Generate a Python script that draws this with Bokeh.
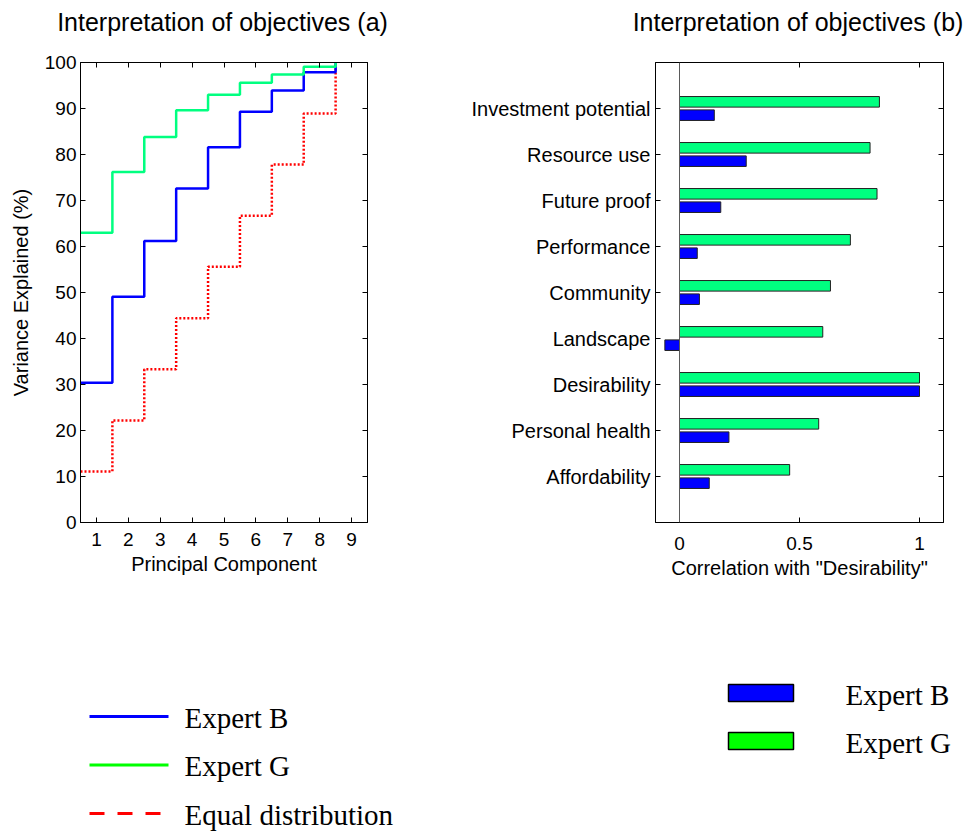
from bokeh.plotting import figure
from bokeh.models import (Range1d, FactorRange, LinearAxis, CategoricalAxis, FixedTicker, Span,
                          ColumnDataSource, CustomJSTickFormatter)
from bokeh.transform import dodge
from bokeh.layouts import column, row
from bokeh.embed import file_html
from bokeh.resources import INLINE
from bokeh.core.properties import value

# ---------------- data ----------------
components = [1, 2, 3, 4, 5, 6, 7, 8, 9]
expert_b_var = [30.4, 49.1, 61.2, 72.6, 81.6, 89.3, 93.9, 97.9, 100.0]
expert_g_var = [63.0, 76.2, 83.8, 89.6, 93.0, 95.6, 97.4, 99.1, 100.0]
equal_var = [11.1, 22.2, 33.3, 44.4, 55.6, 66.7, 77.8, 88.9, 100.0]
y_ticks_a = [0, 10, 20, 30, 40, 50, 60, 70, 80, 90, 100]

objectives = ["Affordability", "Personal health", "Desirability", "Landscape",
              "Community", "Performance", "Future proof", "Resource use",
              "Investment potential"]
corr_b = [0.124, 0.206, 1.0, -0.061, 0.083, 0.074, 0.172, 0.278, 0.145]
corr_g = [0.459, 0.580, 1.0, 0.597, 0.629, 0.712, 0.823, 0.794, 0.833]
x_ticks_b = [0, 0.5, 1]
x_tick_labels_b = ["0", "0.5", "1"]

titles = ["Interpretation of objectives (a)", "Interpretation of objectives (b)"]
line_legend = ["Expert B", "Expert G", "Equal distribution"]
bar_legend = ["Expert B", "Expert G"]

# ---------------- styles ----------------
SANS = "Liberation Sans"
SERIF = "Liberation Serif"
BLUE = "#0000FF"
GREEN = "#00FF80"
RED = "#FF0000"
line_legend_colors = [BLUE, "#00FF00", RED]
line_legend_dash = ["solid", "solid", "15 13"]
bar_legend_colors = [BLUE, "#00FF00"]

W_A, W_B = 448, 516
H_TITLE, H_PLOT, H_LEG = 40, 608, 185
FRAME_TOP = 62 - H_TITLE
FRAME_H = 460
A_LEFT, A_FW = 80, 287
B_LEFT, B_FW = 207, 288
BLANK = CustomJSTickFormatter(code="return ''")


def style_axis(ax, show_labels=True):
    ax.axis_line_color = "black"
    ax.axis_line_width = 1
    ax.major_tick_in = 5
    ax.major_tick_out = 0
    ax.major_tick_line_color = "black"
    ax.minor_tick_line_color = None
    ax.major_label_text_font = SANS
    ax.major_label_text_color = "black"
    ax.major_label_text_font_size = "19px"
    ax.major_label_standoff = 4 if show_labels else 0
    ax.axis_label_text_font = SANS
    ax.axis_label_text_font_size = "20px"
    ax.axis_label_text_font_style = "normal"
    ax.axis_label_text_color = "black"


def blank(width, height):
    p = figure(width=width, height=height, x_range=Range1d(0, width), y_range=Range1d(height, 0),
               output_backend="svg", toolbar_location=None, min_border=0,
               x_axis_location=None, y_axis_location=None)
    p.grid.visible = False
    p.outline_line_color = None
    return p


# ---------------- titles ----------------
title_figs = []
for t, w, left, fw in zip(titles, [W_A, W_B], [A_LEFT, B_LEFT], [A_FW, B_FW]):
    tp = blank(w, H_TITLE)
    tp.text(x=[left + fw / 2 - 1.5], y=[21], text=[t], text_font=value(SANS),
            text_font_size="25px", text_align="center", text_baseline="middle",
            text_color="black")
    title_figs.append(tp)

# ---------------- plot (a) ----------------
fa = figure(width=W_A, height=H_PLOT, x_range=Range1d(0.5, 9.5), y_range=Range1d(0, 100),
            output_backend="svg", toolbar_location=None,
            min_border_left=A_LEFT, min_border_right=W_A - A_LEFT - A_FW,
            min_border_top=FRAME_TOP, min_border_bottom=H_PLOT - FRAME_TOP - FRAME_H)
fa.grid.visible = False
fa.outline_line_color = "black"
fa.xaxis.ticker = FixedTicker(ticks=components)
fa.yaxis.ticker = FixedTicker(ticks=y_ticks_a)
fa.xaxis.axis_label = "Principal Component"
fa.yaxis.axis_label = "Variance Explained (%)"
for ax in fa.xaxis + fa.yaxis:
    style_axis(ax)
fa.xaxis.major_label_standoff = 10
fa.xaxis.axis_label_standoff = 4
fa.yaxis.axis_label_standoff = 10
top_a = LinearAxis(ticker=FixedTicker(ticks=components), formatter=BLANK)
right_a = LinearAxis(ticker=FixedTicker(ticks=y_ticks_a), formatter=BLANK)
style_axis(top_a, False)
style_axis(right_a, False)
fa.add_layout(top_a, "above")
fa.add_layout(right_a, "right")

stair_x = [c - 0.5 for c in components]
fa.step(stair_x, equal_var, mode="after", line_color=RED, line_width=2.5, line_dash="2 2")
fa.step(stair_x, expert_b_var, mode="after", line_color=BLUE, line_width=2.5)
fa.step(stair_x, expert_g_var, mode="after", line_color=GREEN, line_width=2.5)

# ---------------- plot (b) ----------------
src = ColumnDataSource(dict(cat=objectives, b=corr_b, g=corr_g))
fb = figure(width=W_B, height=H_PLOT, x_range=Range1d(-0.1, 1.1),
            y_range=FactorRange(factors=objectives, range_padding=0.5, range_padding_units="absolute"),
            output_backend="svg", toolbar_location=None,
            min_border_left=B_LEFT, min_border_right=W_B - B_LEFT - B_FW,
            min_border_top=FRAME_TOP, min_border_bottom=H_PLOT - FRAME_TOP - FRAME_H)
fb.grid.visible = False
fb.outline_line_color = "black"
fb.xaxis.ticker = FixedTicker(ticks=x_ticks_b)
fb.xaxis.major_label_overrides = {t: l for t, l in zip(x_ticks_b, x_tick_labels_b)}
fb.xaxis.axis_label = 'Correlation with "Desirability"'
for ax in fb.xaxis + fb.yaxis:
    style_axis(ax)
fb.yaxis.major_label_text_font_size = "20px"
fb.yaxis.major_label_standoff = 5
fb.xaxis.major_label_standoff = 14
fb.xaxis.axis_label_standoff = 4
top_b = LinearAxis(ticker=FixedTicker(ticks=x_ticks_b), formatter=BLANK)
right_b = CategoricalAxis(formatter=BLANK)
style_axis(top_b, False)
style_axis(right_b, False)
fb.add_layout(top_b, "above")
fb.add_layout(right_b, "right")

fb.add_layout(Span(location=0, dimension="height", line_color="#5a5a5a", line_width=1))
fb.hbar(y=dodge("cat", 0.145, range=fb.y_range), left=0, right="g", height=0.23,
        fill_color=GREEN, line_color="#222222", line_width=1, source=src)
fb.hbar(y=dodge("cat", -0.145, range=fb.y_range), left=0, right="b", height=0.23,
        fill_color=BLUE, line_color="#222222", line_width=1, source=src)

# ---------------- legends ----------------
la = blank(W_A, H_LEG)
pitch = 48.5
for i, (name, col, dash) in enumerate(zip(line_legend, line_legend_colors, line_legend_dash)):
    yy = 68 + i * pitch
    la.line([89, 168], [yy, yy], line_color=col, line_width=3, line_dash=dash)
la.text(x=[184] * len(line_legend), y=[69 + i * pitch for i in range(len(line_legend))],
        text=line_legend, text_font=value(SERIF), text_font_size="29px",
        text_baseline="alphabetic", text_align="left", text_color="black")

lb = blank(W_B, H_LEG)
n = len(bar_legend)
lb.quad(left=[280] * n, right=[345] * n,
        top=[36 + i * 48 for i in range(n)], bottom=[53 + i * 48 for i in range(n)],
        fill_color=bar_legend_colors, line_color="black", line_width=1.5)
lb.text(x=[397] * n, y=[46 + i * 48 for i in range(n)], text=bar_legend,
        text_font=value(SERIF), text_font_size="29px",
        text_baseline="alphabetic", text_align="left", text_color="black")

layout = column(row(*title_figs), row(fa, fb), row(la, lb))
open("out.html", "w").write(file_html(layout, INLINE))
